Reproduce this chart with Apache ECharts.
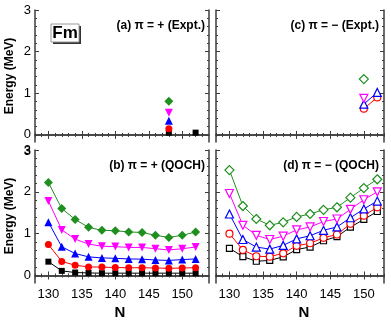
<!DOCTYPE html>
<html>
<head>
<meta charset="utf-8">
<script src="https://cdn.jsdelivr.net/npm/echarts@6/dist/echarts.min.js"></script>
<style>
  html, body { margin: 0; padding: 0; background: #fff; }
  #chart { width: 391px; height: 322px; }
</style>
</head>
<body>
<div id="chart"></div>
<script>
// neutron numbers for the QOCH calculation
const N = [130, 132, 134, 136, 138, 140, 142, 144, 146, 148, 150, 152]

// (b) positive parity, QOCH
const posSq   = [0.33, 0.11, 0.07, 0.06, 0.055, 0.055, 0.055, 0.055, 0.055, 0.055, 0.055, 0.055]
const posCirc = [0.74, 0.335, 0.245, 0.205, 0.20, 0.19, 0.185, 0.185, 0.18, 0.17, 0.18, 0.185]
const posUp   = [1.275, 0.685, 0.525, 0.445, 0.42, 0.41, 0.395, 0.39, 0.37, 0.36, 0.38, 0.395]
const posDown = [1.78, 1.09, 0.87, 0.75, 0.70, 0.69, 0.67, 0.67, 0.64, 0.61, 0.64, 0.68]
const posDia  = [2.22, 1.60, 1.34, 1.15, 1.08, 1.07, 1.04, 1.03, 0.96, 0.91, 0.96, 1.04]

// (d) negative parity, QOCH
const negSq   = [0.65, 0.45, 0.34, 0.36, 0.445, 0.62, 0.68, 0.83, 0.93, 1.155, 1.34, 1.53]
const negCirc = [1.00, 0.61, 0.46, 0.45, 0.53, 0.71, 0.77, 0.90, 0.98, 1.235, 1.43, 1.63]
const negUp   = [1.47, 0.86, 0.68, 0.63, 0.72, 0.875, 0.95, 1.08, 1.16, 1.38, 1.59, 1.78]
const negDown = [1.96, 1.20, 0.96, 0.86, 0.94, 1.09, 1.16, 1.29, 1.35, 1.58, 1.81, 2.00]
const negDia  = [2.52, 1.66, 1.35, 1.20, 1.27, 1.40, 1.47, 1.57, 1.63, 1.86, 2.09, 2.30]

// (a) positive parity, experiment
const exptPosN    = [148, 152]
const exptPosSq   = [0.055, 0.055]
const exptPosCirc = [0.15, null]
const exptPosUp   = [0.34, null]
const exptPosDown = [0.535, null]
const exptPosDia  = [0.81, null]

// (c) negative parity, experiment
const exptNegN    = [150, 152]
const exptNegCirc = [0.63, 0.90]
const exptNegUp   = [0.74, 1.02]
const exptNegDown = [0.88, null]
const exptNegDia  = [1.34, null]

// ticks
const xMajor = [130, 135, 140, 145, 150]
const xMinor = [128, 129, 131, 132, 133, 134, 136, 137, 138, 139, 141, 142, 143, 144, 146, 147, 148, 149, 151, 152, 153]
const yMajor = [0, 1, 2, 3]
const yMinor = [0.2, 0.4, 0.6, 0.8, 1.2, 1.4, 1.6, 1.8, 2.2, 2.4, 2.6, 2.8]

const FONT = 'Liberation Sans'
const FRAME = '#3c3c3c'

const colors = {
    sq: '#000000',
    circ: '#ff0000',
    up: '#0000ff',
    down: '#ff00ff',
    dia: '#1f8f1f'
}
const shapes = {
    sq: { symbol: 'rect', size: 6, rotate: 0 },
    circ: { symbol: 'circle', size: 7, rotate: 0 },
    up: { symbol: 'triangle', size: 8, rotate: 0 },
    down: { symbol: 'triangle', size: 8, rotate: 180 },
    dia: { symbol: 'diamond', size: 9, rotate: 0 }
}

const grids = [
    { left: 35, top: 10, width: 174, height: 132 },   // (a)
    { left: 216, top: 10, width: 168, height: 132 },  // (c)
    { left: 35, top: 150, width: 174, height: 133 },  // (b)
    { left: 216, top: 150, width: 168, height: 133 }  // (d)
]
const xMax = [154, 153, 154, 153]
const yMin = [-0.17, -0.17, -0.18, -0.18]

const xAxis = []
const yAxis = []
const mainX = []
const mainY = []

grids.forEach((g, gi) => {
    const showX = gi >= 2
    const showY = gi % 2 === 0
    const base = {
        type: 'value', gridIndex: gi, min: 128, max: xMax[gi],
        splitLine: { show: false }
    }
    mainX.push(xAxis.length)
    xAxis.push(Object.assign({}, base, {
        position: 'bottom',
        axisLine: { show: true, lineStyle: { color: FRAME, width: 1.5 } },
        axisTick: { show: true, inside: true, length: 4, customValues: xMajor, lineStyle: { color: FRAME } },
        axisLabel: { show: showX, customValues: xMajor, color: '#000', fontSize: 13, fontFamily: FONT, margin: 5 }
    }))
    xAxis.push(Object.assign({}, base, {
        position: 'bottom',
        axisLine: { show: false },
        axisTick: { show: true, inside: true, length: 2, customValues: xMinor, lineStyle: { color: FRAME } },
        axisLabel: { show: false }
    }))
    xAxis.push(Object.assign({}, base, {
        position: 'top',
        axisLine: { show: true, lineStyle: { color: FRAME, width: 1.5 } },
        axisTick: { show: true, inside: true, length: 4, customValues: xMajor, lineStyle: { color: FRAME } },
        axisLabel: { show: false }
    }))
    xAxis.push(Object.assign({}, base, {
        position: 'top',
        axisLine: { show: false },
        axisTick: { show: true, inside: true, length: 2, customValues: xMinor, lineStyle: { color: FRAME } },
        axisLabel: { show: false }
    }))

    const ybase = {
        type: 'value', gridIndex: gi, min: yMin[gi], max: 3,
        splitLine: { show: false }
    }
    mainY.push(yAxis.length)
    yAxis.push(Object.assign({}, ybase, {
        position: 'left',
        axisLine: { show: true, lineStyle: { color: FRAME, width: 1.5 } },
        axisTick: { show: true, inside: true, length: 4, customValues: yMajor, lineStyle: { color: FRAME } },
        axisLabel: {
            show: showY, customValues: yMajor, showMaxLabel: true, hideOverlap: false,
            color: '#000', fontSize: 13, fontFamily: FONT, margin: 4
        }
    }))
    yAxis.push(Object.assign({}, ybase, {
        position: 'left',
        axisLine: { show: false },
        axisTick: { show: true, inside: true, length: 2, customValues: yMinor, lineStyle: { color: FRAME } },
        axisLabel: { show: false }
    }))
    yAxis.push(Object.assign({}, ybase, {
        position: 'right',
        axisLine: { show: true, lineStyle: { color: FRAME, width: 1.5 } },
        axisTick: { show: true, inside: true, length: 4, customValues: yMajor, lineStyle: { color: FRAME } },
        axisLabel: { show: false }
    }))
    yAxis.push(Object.assign({}, ybase, {
        position: 'right',
        axisLine: { show: false },
        axisTick: { show: true, inside: true, length: 2, customValues: yMinor, lineStyle: { color: FRAME } },
        axisLabel: { show: false }
    }))
})

function makeSeries(gi, xs, ys, key, open, line) {
    const s = shapes[key]
    const c = colors[key]
    return {
        type: 'line',
        xAxisIndex: mainX[gi],
        yAxisIndex: mainY[gi],
        data: xs.map((x, i) => [x, ys[i]]).filter(p => p[1] !== null),
        symbol: s.symbol,
        symbolSize: s.size,
        symbolRotate: s.rotate,
        showAllSymbol: true,
        silent: true,
        animation: false,
        lineStyle: { color: c, width: line ? 1 : 0, opacity: line ? 1 : 0 },
        itemStyle: open
            ? { color: '#fff', borderColor: c, borderWidth: 1.2 }
            : { color: c, borderWidth: 0 },
        z: 3
    }
}

const series = [
    // (a)
    makeSeries(0, exptPosN, exptPosSq, 'sq', false, false),
    makeSeries(0, exptPosN, exptPosCirc, 'circ', false, false),
    makeSeries(0, exptPosN, exptPosUp, 'up', false, false),
    makeSeries(0, exptPosN, exptPosDown, 'down', false, false),
    makeSeries(0, exptPosN, exptPosDia, 'dia', false, false),
    // (c)
    makeSeries(1, exptNegN, exptNegCirc, 'circ', true, true),
    makeSeries(1, exptNegN, exptNegUp, 'up', true, true),
    makeSeries(1, exptNegN, exptNegDown, 'down', true, false),
    makeSeries(1, exptNegN, exptNegDia, 'dia', true, false),
    // (b)
    makeSeries(2, N, posSq, 'sq', false, true),
    makeSeries(2, N, posCirc, 'circ', false, true),
    makeSeries(2, N, posUp, 'up', false, true),
    makeSeries(2, N, posDown, 'down', false, true),
    makeSeries(2, N, posDia, 'dia', false, true),
    // (d)
    makeSeries(3, N, negSq, 'sq', true, true),
    makeSeries(3, N, negCirc, 'circ', true, true),
    makeSeries(3, N, negUp, 'up', true, true),
    makeSeries(3, N, negDown, 'down', true, true),
    makeSeries(3, N, negDia, 'dia', true, true)
]

function label(x, y, text, size, align, weight) {
    return {
        type: 'text', x, y, z: 10,
        style: {
            text, fill: '#000', font: `${weight || 'bold'} ${size}px "${FONT}"`,
            align: align || 'right', verticalAlign: 'middle'
        }
    }
}

const graphic = [
    label(205, 26, '(a) π = + (Expt.)', 12),
    label(379, 26, '(c) π = − (Expt.)', 12),
    label(205, 166, '(b) π = + (QOCH)', 12),
    label(379, 166, '(d) π = − (QOCH)', 12),
    label(120, 313, 'N', 15, 'center'),
    label(304, 313, 'N', 15, 'center'),
    // top label of panel (b), tucked under panel (a)
    label(31, 151, '3', 13, 'right', 'normal'),
    {
        type: 'text', x: 10, y: 76, rotation: Math.PI / 2, z: 10,
        style: { text: 'Energy (MeV)', fill: '#000', font: `bold 12px "${FONT}"`, align: 'center', verticalAlign: 'middle' }
    },
    {
        type: 'text', x: 10, y: 216, rotation: Math.PI / 2, z: 10,
        style: { text: 'Energy (MeV)', fill: '#000', font: `bold 12px "${FONT}"`, align: 'center', verticalAlign: 'middle' }
    },
    // Fm box with shadow
    { type: 'rect', shape: { x: 53, y: 26, width: 28, height: 18 }, style: { fill: '#333' }, z: 9 },
    { type: 'rect', shape: { x: 51, y: 24, width: 28, height: 18 }, style: { fill: '#fff', stroke: '#999', lineWidth: 1 }, z: 10 },
    label(65, 33.5, 'Fm', 17, 'center')
]

const chart = echarts.init(document.getElementById('chart'), null, { renderer: 'canvas' })
chart.setOption({
    animation: false,
    backgroundColor: '#fff',
    grid: grids.map(g => Object.assign({ containLabel: false }, g)),
    xAxis,
    yAxis,
    series,
    graphic
})
</script>
</body>
</html>
